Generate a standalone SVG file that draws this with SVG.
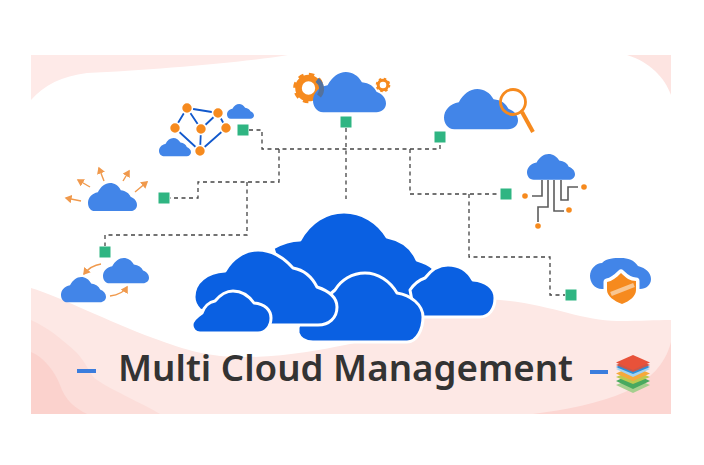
<svg xmlns="http://www.w3.org/2000/svg" width="704" height="465" viewBox="0 0 704 465">
<style>
.c{fill:#4285e8}
.b{fill:#0a60e2;stroke:#fff;stroke-width:3;stroke-linejoin:round}
.s{fill:#2fb582}
.d{fill:none;stroke:#444;stroke-width:1.3;stroke-dasharray:4 3.5}
.o{fill:#f68a1e}
.a{fill:none;stroke:#f0994c;stroke-width:1.4;marker-end:url(#ah)}
.e{stroke:#1158cc;stroke-width:1.8}
.n{fill:#f68a1e;stroke:#fff;stroke-width:1.6}
.w{fill:none;stroke:#5c5c5c;stroke-width:1.6}
.t{font-family:"Noto Sans","Open Sans",sans-serif;font-weight:600;font-size:36.500px;fill:#333}
</style>
<defs>
<path id="cl" d="M14 55C5 55 0 47 0 39C0 29 8 20 20 18C26 7 35 0 45 0C54 0 62 5 67 14C77 15 84 20 87 27C95 30 100 36 100 43C100 50 94 55 87 55Z"/>
<marker id="ah" markerWidth="6" markerHeight="6" refX="4" refY="3" orient="auto"><path d="M0 0L5 3L0 6Z" fill="#f0994c"/></marker>
</defs>
<rect width="704" height="465" fill="#fff"/>
<g id="background">
<path d="M31 55H288C240 63 150 70 87 73C62 76 44 85 31 100Z" fill="#feeae8"/>
<path d="M627 55H671V95C665 78 650 62 627 55Z" fill="#fde4e1"/>
<path d="M31 288C60 297 110 322 153 338C190 352 215 358 250 357C290 356 320 350 345 345C400 335 450 296 500 300C550 304 585 322 620 321C640 321 655 320 671 320V414H31Z" fill="#fde8e5"/>
<path d="M31 320C50 328 68 345 77 353C88 365 90 376 97 380C115 392 140 402 160 414H31Z" fill="#fcdeda"/>
<path d="M31 352C45 358 55 372 60 385C65 400 75 408 87 414H31Z" fill="#fbd2cd"/>
<path d="M671 342C665 365 650 380 625 392C600 403 565 410 533 414H671Z" fill="#fcd6d2"/>
</g>
<g id="connectors">
<path class="d" d="M249 130H262V149H440V143"/>
<path class="d" d="M279 149V182H198V198H170"/>
<path class="d" d="M247 182V235H105V246"/>
<path class="d" d="M346 128V199"/>
<path class="d" d="M410 149V194H500"/>
<path class="d" d="M469 194V257H550V295H565"/>
</g>
<g id="node-network">
<rect class="s" x="237.500" y="124.500" width="11" height="11"/>
<use href="#cl" class="c" transform="translate(227 104) scale(.27 .27)"/>
<use href="#cl" class="c" transform="translate(159 138) scale(.32 .33)"/>
<path class="e" d="M187 108L218 113M187 108L175 128M187 108L201 129M218 113L201 129M218 113L226 128M175 128L200 151M201 129L200 151M226 128L200 151"/>
<circle class="n" cx="187" cy="108" r="5.500"/><circle class="n" cx="218" cy="113" r="5.500"/><circle class="n" cx="175" cy="128" r="5.500"/><circle class="n" cx="201" cy="129" r="5.500"/><circle class="n" cx="226" cy="128" r="5.500"/><circle class="n" cx="200" cy="151" r="5.500"/>
</g>
<g id="node-settings">
<rect class="s" x="340.500" y="116.500" width="11" height="11"/>
<circle cx="308.500" cy="88" r="10" fill="none" stroke="#f68a1e" stroke-width="6.600"/>
<circle cx="308.500" cy="88" r="13.500" fill="none" stroke="#f68a1e" stroke-width="3.600" stroke-dasharray="5.300 5.300"/>
<use href="#cl" class="c" transform="translate(313 72) scale(.73 .73)"/>
<path d="M317 80A11 11 0 0 1 319 96" fill="none" stroke="#55729c" stroke-width="5"/>
<circle cx="383" cy="85" r="4.800" fill="none" stroke="#f68a1e" stroke-width="3"/>
<circle cx="383" cy="85" r="6.300" fill="none" stroke="#f68a1e" stroke-width="2" stroke-dasharray="2.500 2.450"/>
</g>
<g id="node-search">
<rect class="s" x="434.500" y="131.500" width="11" height="11"/>
<use href="#cl" class="c" transform="translate(444 89) scale(.74 .73)"/>
<circle cx="513" cy="102" r="12.500" fill="none" stroke="#f68a1e" stroke-width="2.800"/>
<path d="M522 112L533 132" stroke="#f68a1e" stroke-width="4"/>
</g>
<g id="node-broadcast">
<rect class="s" x="158.500" y="192.500" width="11" height="11"/>
<use href="#cl" class="c" transform="translate(88 183) scale(.49 .51)"/>
<path class="a" d="M81 201L66 198"/><path class="a" d="M90 187L78 180"/><path class="a" d="M104 181L99 168"/><path class="a" d="M123 181L129 171"/><path class="a" d="M135 192L147 182"/>
</g>
<g id="node-sync">
<rect class="s" x="99.500" y="246.500" width="11" height="11"/>
<use href="#cl" class="c" transform="translate(61 277) scale(.45 .46)"/>
<use href="#cl" class="c" transform="translate(103 258) scale(.46 .46)"/>
<path class="a" d="M101 264C94 265 88 269 84 274"/><path class="a" d="M110 296C118 295 124 292 127 287"/>
</g>
<g id="node-chip">
<rect class="s" x="500.500" y="188.500" width="11" height="11"/>
<use href="#cl" class="c" transform="translate(527 154) scale(.48 .47)"/>
<path class="w" d="M542 180V196H532M548 180V207H538V222M554 180V211H564M561 180V200H568V187H578"/>
<circle class="o" cx="525" cy="196" r="2.800"/><circle class="o" cx="538" cy="226" r="2.800"/><circle class="o" cx="569" cy="210" r="2.800"/><circle class="o" cx="584" cy="187" r="2.800"/>
</g>
<g id="node-shield">
<rect class="s" x="565.500" y="289.500" width="11" height="11"/>
<path class="c" d="M602 289C594 289 590 282 590 276C590 269 596 263 602 263C607 258 614 258 621 258C628 258 634 260 638 266C646 268 651 273 651 279C651 285 646 289 640 289Z"/>
<path d="M621 273C616 278 612 281 607 282V290C607 296 614 301 622 304C630 301 636 296 636 290V281C630 281 626 278 621 273Z" fill="#fff" stroke="#fff" stroke-width="7" stroke-linejoin="round"/>
<path class="o" d="M621 273C616 278 612 281 607 282V290C607 296 614 301 622 304C630 301 636 296 636 290V281C630 281 626 278 621 273Z"/>
<path d="M611 294L634 285" stroke="#f8c692" stroke-width="4.500"/>
</g>
<g id="node-main">
<path class="b" d="M273 248C282 243 292 240 300 240C310 222 326 212 344 212C362 212 378 222 387 237C402 240 412 248 417 260C424 262 429 264 433 268V300H290Z"/>
<path class="b" d="M410 290C414 284 419 280 425 278C431 270 439 265 448 265C459 265 468 271 473 280C486 281 495 288 495 298C495 309 489 317 480 317H415Z"/>
<path class="b" d="M298 328V333C300 339 306 342 313 342H407C417 342 423 329 423 317C423 305 411 295 397 293C390 281 378 273 365 273C352 273 341 280 335 290L300 320Z"/>
<path class="b" d="M200 310C196 306 194 302 194 297C194 282 207 272 225 271C232 258 245 250 258 250C272 250 284 258 293 268C304 270 312 277 317 287C329 291 337 298 337 307C337 318 329 325 318 325H240Z"/>
<path class="b" d="M200 333C195 333 192 329 192 325C192 321 196 317 202 313C204 307 209 302 215 301C220 295 226 291 233 291C242 291 249 296 254 303C265 304 271 310 271 318C271 326 266 333 258 333Z"/>
</g>
<g id="title">
<rect x="77" y="369" width="19" height="4" fill="#3b7ddd"/>
<text class="t" x="118" y="381" textLength="455" lengthAdjust="spacingAndGlyphs">Multi Cloud Management</text>
<rect x="590" y="370" width="18" height="4" fill="#3b7ddd"/>
</g>
<g id="node-stack">
<path d="M633 378L650 385L633 393L616 385Z" fill="#a5cf8e"/>
<path d="M633 373L650 381L633 389L616 381Z" fill="#48a95f"/>
<path d="M633 370L650 377L633 384L616 377Z" fill="#bcc94f"/>
<path d="M633 366L650 373.500L633 381L616 373.500Z" fill="#f6a93b"/>
<path d="M633 362L650 369L633 377L616 369Z" fill="#a4d3ef"/>
<path d="M633 360L650 367L633 374L616 367Z" fill="#2f8fd8"/>
<path d="M633 358L650 365L633 372L616 365Z" fill="#c9574a"/>
<path d="M633 355L650 362.500L633 370L616 362.500Z" fill="#e8523a"/>
</g>
</svg>
